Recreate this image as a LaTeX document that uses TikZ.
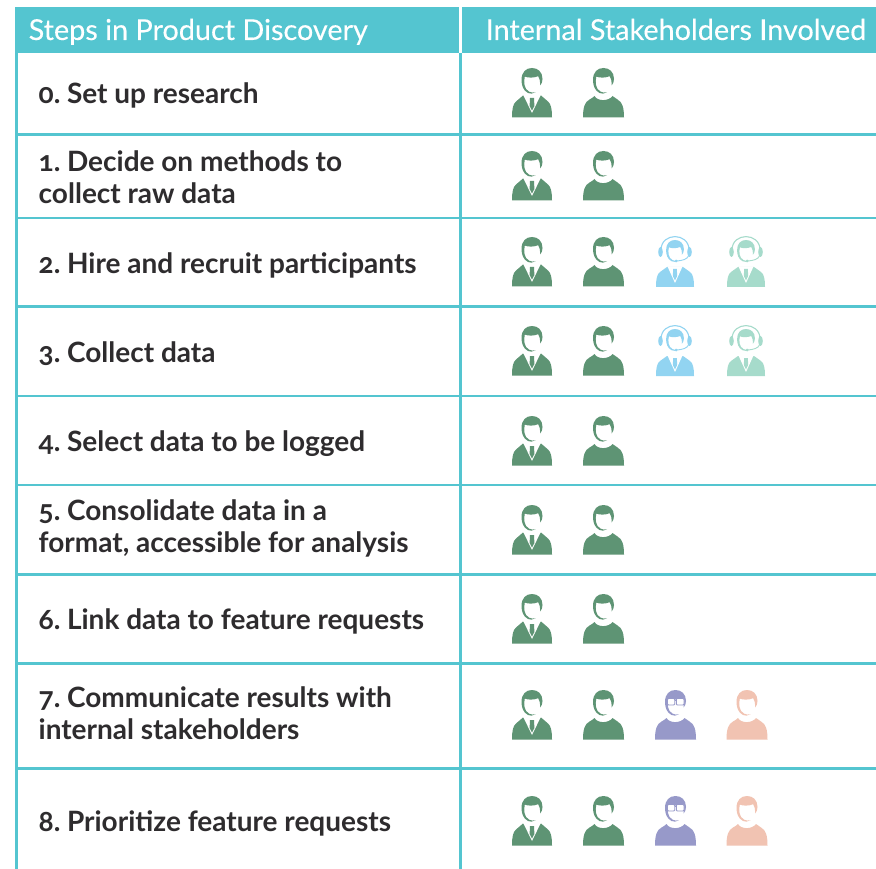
\documentclass[tikz,border=0pt]{standalone}
\usepackage{fontspec}
\setmainfont[Numbers=OldStyle]{Lato}
\definecolor{teal1}{HTML}{54C5D0}
\definecolor{ink}{HTML}{2E2C2E}
\definecolor{gr}{HTML}{5E9474}
\definecolor{bl}{HTML}{92D4F1}
\definecolor{mn}{HTML}{A6DBCB}
\definecolor{pu}{HTML}{9799C9}
\definecolor{pe}{HTML}{F1C3B2}
\newfontfamily\headfont[Numbers=OldStyle,FakeBold=0.25]{Lato}
\tikzset{
 x=1pt,y=-1pt,
 rowtext/.style={anchor=base west,inner sep=0pt,text=ink,font=\fontsize{28}{32}\selectfont\bfseries},
 headtext/.style={anchor=base west,inner sep=0pt,text=white,font=\headfont\fontsize{28.8}{34}\selectfont},
 rule/.style={draw=teal1,line width=2.6pt},
 headhair/.pic={
   \fill[#1] (-10.5,12) .. controls (-10.5,4) and (-6,0) .. (0,0)
     .. controls (6,0) and (10.5,4) .. (10.5,11)
     .. controls (10.5,14) and (9.5,16) .. (8,17.5)
     .. controls (8.3,13) and (7.5,10) .. (6.2,8.2)
     .. controls (2,10) and (-4,10) .. (-7.2,8.6)
     .. controls (-8.5,14) and (-8,21) .. (-3,23.6)
     .. controls (-1,24.8) and (1,24.8) .. (3.5,24.2)
     .. controls (1,26) and (-2,26) .. (-4,25)
     .. controls (-9,22.5) and (-10.5,17) .. (-10.5,12) -- cycle;
 },
 suitman/.pic={
   \fill[#1] (-20,49.5) .. controls (-20,41) and (-19,36) .. (-16,33.5)
     -- (-9,27.5) -- (9,27.5) -- (16,33.5)
     .. controls (19,36) and (20,41) .. (20,49.5) -- cycle;
   \fill[white] (-9,26.5) -- (0,45) -- (9,26.5) -- cycle;
   \fill[#1] (-2,30) -- (2,30) -- (2.4,38) -- (0,42.5) -- (-2.4,38) -- cycle;
   \pic {headhair=#1};
 },
 sweater/.pic={
   \fill[#1] (-20.5,49.5) .. controls (-20.5,40) and (-19,34) .. (-14,31.5)
     .. controls (-12,30.5) and (-10.5,29.5) .. (-9,28)
     .. controls (-6,33.5) and (5,33.5) .. (9,28)
     .. controls (11,30) and (12,30.5) .. (14,31.5)
     .. controls (19,34) and (20.5,40) .. (20.5,49.5) -- cycle;
   \pic {headhair=#1};
 },
 headset/.pic={
   \fill[#1] (-19,50) .. controls (-19,42) and (-18,37) .. (-15,35)
     -- (-8,30) -- (8,30) -- (15,35)
     .. controls (18,37) and (19,42) .. (19,50) -- cycle;
   \fill[white] (-7.5,29.5) -- (0,46) -- (7.5,29.5) -- cycle;
   \fill[#1] (-1.8,32) -- (1.8,32) -- (2.2,39) -- (0,43.5) -- (-2.2,39) -- cycle;
   \pic[shift={(0,3)},scale=0.85] {headhair=#1};
   \draw[#1,line width=1.1pt] (-14,13) .. controls (-14,4) and (-7,-0.4) .. (0,-0.4) .. controls (7,-0.4) and (14,4) .. (14,13);
   \fill[#1] (-14.5,15) ellipse[x radius=2.3,y radius=5];
   \fill[#1] (14.5,15) ellipse[x radius=2.3,y radius=5];
   \draw[#1,line width=0.9pt] (13.5,19) .. controls (12,22.5) and (7,23.5) .. (2,24);
   \fill[#1] (1,24) circle[radius=1.5];
 },
 glasses/.pic={
   \pic {sweater=#1};
   \draw[#1,line width=0.9pt,fill=white,rounded corners=1pt] (-8,8.5) rectangle (-0.8,15);
   \draw[#1,line width=0.9pt,fill=white,rounded corners=1pt] (0.8,8.5) rectangle (8.5,15);
   \draw[#1,line width=0.9pt] (-0.8,10) -- (0.8,10);
 },
}
\begin{document}
\begin{tikzpicture}
\useasboundingbox (0,0) rectangle (876,869);
\fill[white] (0,0) rectangle (876,869);
\fill[teal1] (15,7) rectangle (876,53);
\draw[white,line width=2.6pt] (460.5,7) -- (460.5,53);
\draw[rule] (16.5,53) -- (16.5,869);
\draw[rule] (460.5,53) -- (460.5,869);
\foreach \yy in {134.5,218,306.5,396,485,574.5,663.5,768.5} \draw[rule] (15,\yy) -- (876,\yy);

\node[headtext] (h1) at (28.5,40) {Steps in Product Discovery};
\node[headtext] (h2) at (485.5,40) {Internal Stakeholders Involved};

\node[rowtext] (r0) at (38.5,103.5) {0.\kern-2.5pt{} Set up research};
\node[rowtext] (r1a) at (38.5,171.5) {1.\kern-2.5pt{} Decide on methods to};
\node[rowtext] (r1b) at (38.5,203.5) {collect raw data};
\node[rowtext] (r2) at (38.5,273) {2.\kern-2.5pt{} Hire and recruit participants};
\node[rowtext] (r3) at (38.5,362) {3.\kern-2.5pt{} Collect data};
\node[rowtext] (r4) at (38.5,451) {4.\kern-2.5pt{} Select data to be logged};
\node[rowtext] (r5a) at (38.5,520) {5.\kern-2.5pt{} Consolidate data in a};
\node[rowtext] (r5b) at (38.5,552) {format, accessible for analysis};
\node[rowtext] (r6) at (38.5,629) {6.\kern-2.5pt{} Link data to feature requests};
\node[rowtext] (r7a) at (38.5,707) {7.\kern-2.5pt{} Communicate results with};
\node[rowtext] (r7b) at (38.5,739) {internal stakeholders};
\node[rowtext] (r8) at (38.5,831) {8.\kern-2.5pt{} Prioritize feature requests};

\foreach \t in {68,151,237,326,416,505,594,690,796} {
  \pic at (532,\t) {suitman=gr};
  \pic at (603.5,\t) {sweater=gr};
}
\pic at (675,237) {headset=bl};
\pic at (746,237) {headset=mn};
\pic at (675,326) {headset=bl};
\pic at (746,326) {headset=mn};
\pic at (675.5,690) {glasses=pu};
\pic at (747,690) {sweater=pe};
\pic at (675.5,796) {glasses=pu};
\pic at (747,796) {sweater=pe};
\end{tikzpicture}
\end{document}
